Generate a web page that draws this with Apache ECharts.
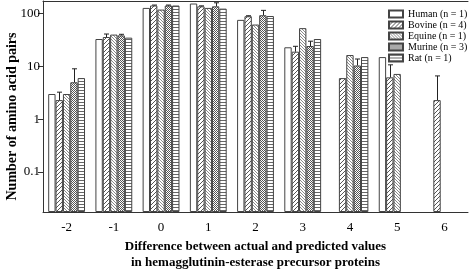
<!DOCTYPE html>
<html>
<head>
<meta charset="utf-8">
<script src="https://cdn.jsdelivr.net/npm/echarts@6/dist/echarts.min.js"></script>
<style>
  html, body { margin: 0; padding: 0; background: #fff; }
  #chart { width: 469px; height: 270px; }
</style>
</head>
<body>
<div id="chart"></div>
<script>
// differences (actual - predicted)
const categories = ["-2", "-1", "0", "1", "2", "3", "4", "5", "6"];

// mean counts of amino acid pairs per host
const human  = [3,   33,  128, 155, 76, 23,   null, 15,  null];
const bovine = [2.3, 36,  142, 137, 89, 19,   6,    6.2, 2.3];
const equine = [3,   40,  119, 128, 62, 53,   16.4, 7.2, null];
const murine = [5,   38.6, 142, 137, 93, 24.3, 10.4, null, null];
const rat    = [6,   35,  142, 124, 90, 33,   15,   null, null];

// upper ends of the error bars (null = no bar)
const bovineErr = [3.25, 41, 145, 140, 91, 24, null, 10.7, 6.6];
const murineErr = [9, 40.5, 145, 160, 115, 30, 13.8, null, null];

const yTicks = [0.1, 1, 10, 100];
const serif = "Liberation Serif";

// small canvas fill patterns
function pattern(size, pixels, color) {
    const c = document.createElement("canvas");
    c.width = c.height = size;
    const ctx = c.getContext("2d");
    ctx.fillStyle = "#fff";
    ctx.fillRect(0, 0, size, size);
    ctx.fillStyle = color;
    pixels.forEach(p => ctx.fillRect(p[0], p[1], 1, 1));
    return { image: c, repeat: "repeat" };
}

const fills = {
    human: "#fff",
    bovine: pattern(4, [[3, 0], [2, 1], [1, 2], [0, 3]], "#555"),
    equine: pattern(3, [[0, 0], [1, 1], [2, 2]], "#8a8a8a"),
    murine: pattern(2, [[0, 0], [1, 1]], "#555"),
    rat: pattern(3, [[0, 0], [1, 0], [2, 0]], "#666")
};

const groups = [
    { name: "Human (n = 1)", data: human, fill: fills.human },
    { name: "Bovine (n = 4)", data: bovine, fill: fills.bovine },
    { name: "Equine (n = 1)", data: equine, fill: fills.equine },
    { name: "Murine (n = 3)", data: murine, fill: fills.murine },
    { name: "Rat (n = 1)", data: rat, fill: fills.rat }
];

const catGap = 0.22;

function errorSeries(slot, values, tops) {
    const data = [];
    tops.forEach((t, i) => {
        if (t != null && values[i] != null) data.push([i, t, values[i]]);
    });
    return {
        type: "custom",
        z: 5,
        silent: true,
        data: data,
        encode: { x: 0, y: 1 },
        renderItem: function (params, api) {
            const cat = api.value(0);
            const top = api.coord([cat, api.value(1)]);
            const base = api.coord([cat, api.value(2)]);
            const band = api.coord([1, api.value(2)])[0] - api.coord([0, api.value(2)])[0];
            const groupW = band * (1 - catGap);
            const barW = groupW / 5;
            const x = Math.round(base[0] - groupW / 2 + (slot + 0.5) * barW) + 0.5;
            const style = { stroke: "#222", lineWidth: 1 };
            return {
                type: "group",
                children: [
                    { type: "line", shape: { x1: x, y1: base[1], x2: x, y2: top[1] }, style: style },
                    { type: "line", shape: { x1: x - 2.5, y1: top[1], x2: x + 2.5, y2: top[1] }, style: style }
                ]
            };
        }
    };
}

const chart = echarts.init(document.getElementById("chart"));

const yMin = 0.0175, yMax = 173;

const option = {
    animation: false,
    textStyle: { fontFamily: serif },
    grid: { left: 43, right: 1, top: 1, bottom: 58, outerBoundsMode: "none", containLabel: false },
    legend: {
        orient: "vertical",
        left: 383,
        top: 4,
        icon: "rect",
        itemWidth: 14,
        itemHeight: 7,
        itemGap: 1,
        selectedMode: false,
        textStyle: { fontFamily: serif, fontSize: 10, color: "#000", lineHeight: 8 },
        data: groups.map(g => g.name)
    },
    xAxis: [
        {
            type: "category",
            data: categories,
            axisLine: { lineStyle: { color: "#333", width: 1 } },
            axisTick: { alignWithLabel: true, length: 4, lineStyle: { color: "#333" } },
            axisLabel: { fontFamily: serif, fontSize: 13, color: "#000", margin: 9 },
            name: "Difference between actual and predicted values\nin hemagglutinin-esterase precursor proteins",
            nameLocation: "middle",
            nameGap: 27,
            nameMoveOverlap: false,
            nameTextStyle: { fontFamily: serif, fontSize: 13, fontWeight: "bold", color: "#000", lineHeight: 16 }
        },
        {
            type: "category",
            data: categories,
            position: "top",
            axisLine: { lineStyle: { color: "#333", width: 1 } },
            axisTick: { show: false },
            axisLabel: { show: false }
        }
    ],
    yAxis: {
        type: "log",
        min: yMin,
        max: yMax,
        startValue: yMin,
        axisLine: { show: true, lineStyle: { color: "#333", width: 1 } },
        axisTick: { show: true, length: 5, customValues: yTicks, lineStyle: { color: "#333" } },
        axisLabel: {
            fontFamily: serif, fontSize: 13, color: "#000", margin: 3,
            customValues: yTicks,
            formatter: v => String(+v.toPrecision(3))
        },
        splitLine: { show: false },
        name: "Number of amino acid pairs",
        nameLocation: "middle",
        nameGap: 24,
        nameMoveOverlap: false,
        nameTextStyle: { fontFamily: serif, fontSize: 14, fontWeight: "bold", color: "#000", padding: [0, 20, 0, 0] }
    },
    series: groups.map(g => ({
        name: g.name,
        type: "bar",
        barGap: "0%",
        barCategoryGap: (catGap * 100) + "%",
        data: g.data.map(v => (v == null ? "-" : v)),
        itemStyle: { color: g.fill, borderColor: "#444", borderWidth: 1 }
    })).concat([
        errorSeries(1, bovine, bovineErr),
        errorSeries(3, murine, murineErr)
    ])
};

chart.setOption(option);
</script>
</body>
</html>
